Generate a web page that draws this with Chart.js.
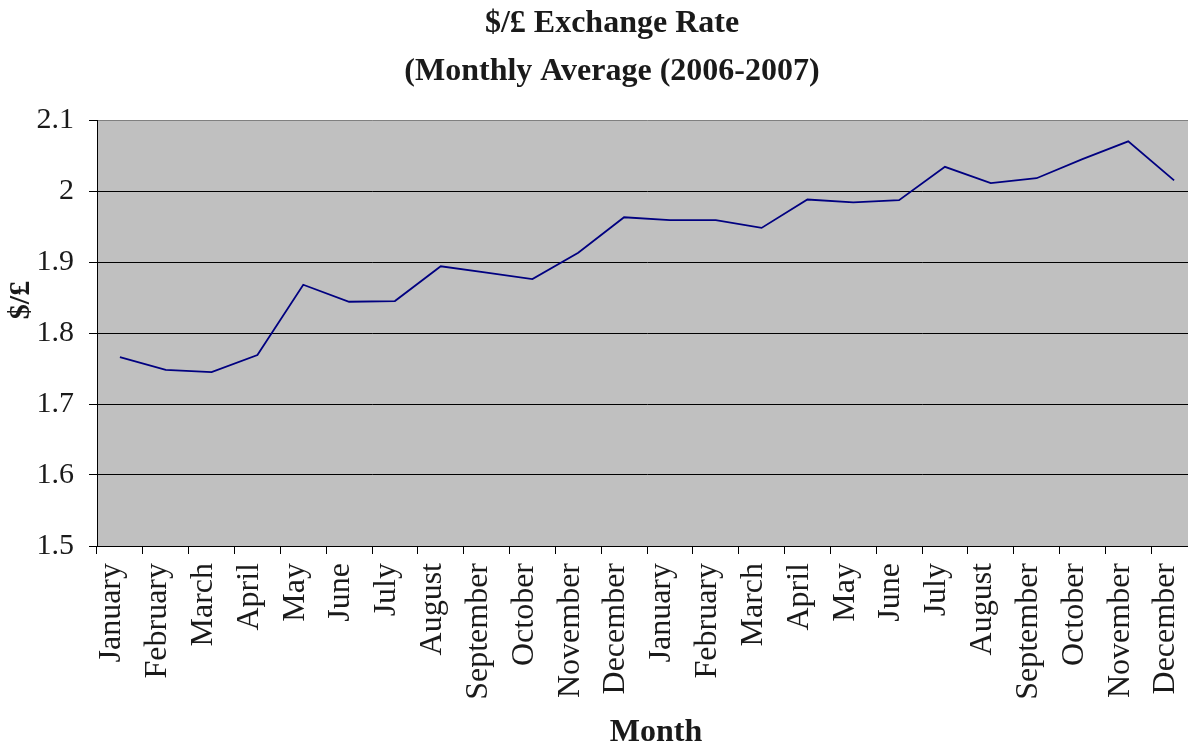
<!DOCTYPE html>
<html>
<head>
<meta charset="utf-8">
<script src="https://cdn.jsdelivr.net/npm/chart.js@4/dist/chart.umd.min.js"></script>
<style>
  html, body { margin: 0; padding: 0; background: #ffffff; overflow: hidden; width: 1188px; height: 747px; }
  #c { display: block; }
</style>
</head>
<body>
<canvas id="c" width="1200" height="747" style="width:1200px;height:747px"></canvas>
<script>
// ---- data ----
const monthNames = ['January','February','March','April','May','June','July','August','September','October','November','December'];
const categories = monthNames.concat(monthNames); // 2006 then 2007
const rate2006 = [1.766, 1.748, 1.745, 1.769, 1.868, 1.844, 1.845, 1.894, 1.885, 1.876, 1.913, 1.963];
const rate2007 = [1.959, 1.959, 1.948, 1.988, 1.984, 1.987, 2.034, 2.011, 2.018, 2.045, 2.070, 2.015];
const rates = rate2006.concat(rate2007);
const titleLines = ['$/£ Exchange Rate', '(Monthly Average (2006-2007)'];
const yTitle = '$/£';
const xTitle = 'Month';

const SERIF = '"Liberation Serif", "Times New Roman", Times, serif';

const plotBg = {
  id: 'plotBg',
  beforeDraw(chart) {
    const a = chart.chartArea, ctx = chart.ctx;
    ctx.save();
    ctx.fillStyle = '#c0c0c0';
    ctx.fillRect(a.left, a.top, a.right - a.left, a.bottom - a.top);
    ctx.restore();
  }
};

const axisTitles = {
  id: 'axisTitles',
  afterDraw(chart) {
    const ctx = chart.ctx;
    ctx.save();
    ctx.font = 'bold 30px ' + SERIF;
    ctx.fillStyle = '#1a1a1a';
    ctx.textAlign = 'center';
    ctx.textBaseline = 'middle';
    ctx.translate(21, 300);
    ctx.rotate(-Math.PI / 2);
    ctx.fillText(yTitle, 0, 0);
    ctx.restore();

    ctx.save();
    ctx.font = 'bold 32px ' + SERIF;
    ctx.fillStyle = '#1a1a1a';
    ctx.textAlign = 'center';
    ctx.textBaseline = 'middle';
    ctx.fillText(xTitle, 656, 733);
    ctx.restore();
  }
};

new Chart(document.getElementById('c'), {
  type: 'line',
  data: {
    labels: categories,
    datasets: [{
      label: '$/£',
      data: rates,
      borderColor: '#000080',
      borderWidth: 1.8,
      pointRadius: 0,
      tension: 0,
      fill: false
    }]
  },
  options: {
    responsive: false,
    animation: false,
    devicePixelRatio: 1,
    layout: { padding: { left: 27, right: 3, top: 0, bottom: 0 } },
    plugins: {
      legend: { display: false },
      tooltip: { enabled: false },
      title: {
        display: true,
        text: titleLines,
        color: '#1a1a1a',
        font: { family: SERIF, size: 32, weight: 'bold', lineHeight: 1.5 },
        padding: { top: 0, bottom: 24 }
      }
    },
    scales: {
      x: {
        offset: true,
        grid: {
          offset: true,
          drawOnChartArea: false,
          drawTicks: true,
          tickLength: 8,
          tickColor: '#000000',
          color: '#000000'
        },
        border: { color: '#000000', width: 1 },
        ticks: {
          autoSkip: false,
          minRotation: 90,
          maxRotation: 90,
          padding: 9,
          labelOffset: -8,
          color: '#1a1a1a',
          font: { family: SERIF, size: 32 }
        },
        title: { display: false },
        afterFit(scale) {
          scale.height = 201;
          scale.paddingLeft = 0;
          scale.paddingRight = 0;
        }
      },
      y: {
        min: 1.5,
        max: 2.1,
        grid: {
          color: (ctx) => (ctx.tick && Math.abs(ctx.tick.value - 2.1) < 1e-6) ? '#808080' : '#000000',
          lineWidth: 1,
          drawTicks: true,
          tickLength: 8,
          tickColor: '#000000'
        },
        border: { color: '#000000', width: 1 },
        ticks: {
          stepSize: 0.1,
          padding: 15,
          color: '#1a1a1a',
          font: { family: SERIF, size: 30 },
          callback: (v) => String(Number(Number(v).toFixed(1)))
        },
        afterFit(scale) {
          scale.width = 70;
          scale.paddingTop = 0;
          scale.paddingBottom = 0;
        }
      }
    }
  },
  plugins: [plotBg, axisTitles]
});
</script>
</body>
</html>
